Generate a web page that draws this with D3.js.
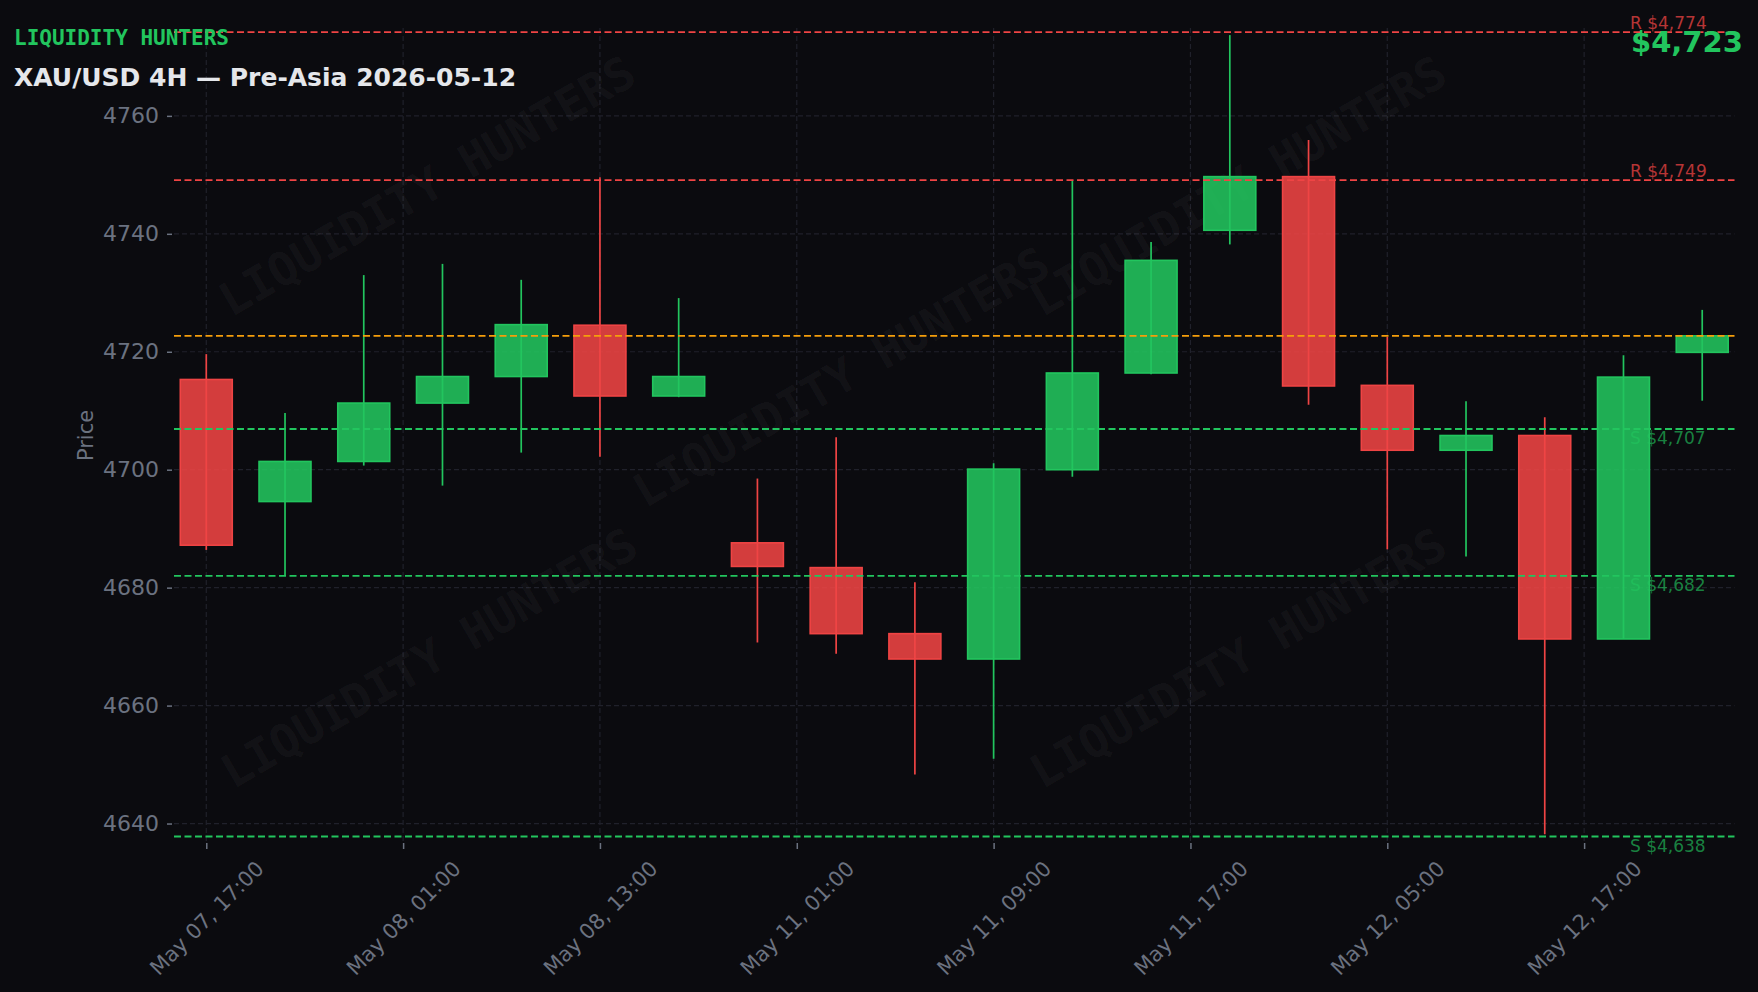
<!DOCTYPE html>
<html><head><meta charset="utf-8">
<script src="https://cdn.jsdelivr.net/npm/d3@7"></script>
<style>html,body{margin:0;padding:0;background:#0b0b0f;} svg{display:block}</style>
</head><body>
<svg id="chart" width="1758" height="992"></svg>
<script>
// ---- data ----
const xTickPositions = [0, 2.5, 5, 7.5, 10, 12.5, 15, 17.5];
const xTickLabels = ["May 07, 17:00", "May 08, 01:00", "May 08, 13:00", "May 11, 01:00",
                     "May 11, 09:00", "May 11, 17:00", "May 12, 05:00", "May 12, 17:00"];
const opens  = [4715.3, 4694.6, 4701.4, 4711.3, 4715.8, 4724.5, 4712.5, 4687.6, 4683.4, 4672.2,
                4667.9, 4700.0, 4716.4, 4740.6, 4749.7, 4714.3, 4703.3, 4705.8, 4671.3, 4719.9];
const highs  = [4719.6, 4709.6, 4733.0, 4734.9, 4732.2, 4749.6, 4729.1, 4698.5, 4705.5, 4680.9,
                4701.1, 4749.1, 4738.6, 4773.7, 4755.9, 4722.5, 4711.6, 4708.9, 4719.4, 4727.1];
const lows   = [4686.4, 4682.1, 4700.7, 4697.3, 4702.9, 4702.2, 4712.3, 4670.7, 4668.8, 4648.3,
                4651.0, 4698.8, 4716.2, 4738.2, 4711.0, 4686.5, 4685.3, 4638.2, 4671.3, 4711.7];
const closes = [4687.2, 4701.4, 4711.3, 4715.8, 4724.6, 4712.5, 4715.8, 4683.6, 4672.2, 4667.9,
                4700.1, 4716.4, 4735.5, 4749.7, 4714.2, 4703.3, 4705.8, 4671.3, 4715.7, 4722.7];
const yTicks = [4640, 4660, 4680, 4700, 4720, 4740, 4760];
const yDomain = [4636.7, 4774.9];
const levelPrices = [4774.2, 4749.1, 4706.9, 4682.0, 4637.8];
const levelKinds  = ["R", "R", "S", "S", "S"];
const titleText = "LIQUIDITY HUNTERS";
const subtitleText = "XAU/USD 4H \u2014 Pre-Asia 2026-05-12";
const watermarkCenters = [[427, 186], [1238, 186], [841, 377], [429, 658], [1238, 658]];

// ---- layout ----
const W = 1758, H = 992;
const m = {left: 174, right: 1734.5, top: 28, bottom: 843};
const BG = "#0b0b0f", GREEN = "#22c55e", RED = "#ef4444", ORANGE = "#f59e0b", GRAY = "#6b7280";
const fmt = v => "$" + d3.format(",")(Math.round(v));

const svg = d3.select("#chart");
svg.append("rect").attr("width", W).attr("height", H).attr("fill", BG);

const n = opens.length;
const x = d3.scaleLinear().domain([-0.41, n - 1 + 0.41]).range([m.left, m.right]);
const y = d3.scaleLinear().domain(yDomain).range([m.bottom, m.top]);

// grid
const grid = svg.append("g");
grid.selectAll("line.h").data(yTicks).join("line")
  .attr("x1", m.left).attr("x2", m.right)
  .attr("y1", d => y(d)).attr("y2", d => y(d))
  .attr("stroke", "#20212b").attr("stroke-width", 1.2).attr("stroke-dasharray", "5,3");
grid.selectAll("line.v").data(xTickPositions).join("line")
  .attr("x1", d => x(d)).attr("x2", d => x(d))
  .attr("y1", m.top).attr("y2", m.bottom)
  .attr("stroke", "#20212b").attr("stroke-width", 1.2).attr("stroke-dasharray", "5,3");

// watermark
svg.append("g").selectAll("text").data(watermarkCenters).join("text")
  .attr("transform", d => `translate(${d[0]},${d[1]}) rotate(-30)`)
  .attr("text-anchor", "middle").attr("dominant-baseline", "central")
  .attr("font-family", "DejaVu Sans Mono").attr("font-weight", "bold").attr("font-size", 46)
  .attr("fill", "#ffffff").attr("fill-opacity", 0.05)
  .text(titleText);

// axes
const yAxis = svg.append("g").attr("transform", `translate(${m.left - 2},0)`)
  .call(d3.axisLeft(y).tickValues(yTicks).tickSize(5).tickPadding(8).tickFormat(d3.format("d")));
yAxis.select(".domain").remove();
yAxis.selectAll(".tick line").attr("stroke", GRAY).attr("stroke-width", 1.5);
yAxis.selectAll(".tick text").attr("fill", GRAY).attr("font-size", 22).attr("font-family", "DejaVu Sans");

const xAxis = svg.append("g").attr("transform", `translate(0,${m.bottom})`)
  .call(d3.axisBottom(x).tickValues(xTickPositions).tickSize(6).tickFormat((d, i) => xTickLabels[i]));
xAxis.select(".domain").remove();
xAxis.selectAll(".tick line").attr("stroke", GRAY).attr("stroke-width", 1.5);
xAxis.selectAll(".tick text")
  .attr("fill", GRAY).attr("font-size", 21).attr("font-family", "DejaVu Sans")
  .attr("x", 0).attr("y", 0).attr("dy", "0.35em").attr("text-anchor", "middle")
  .attr("transform", "translate(0,75) rotate(-45)");

svg.append("text")
  .attr("transform", `translate(86,${(m.top + m.bottom) / 2}) rotate(-90)`)
  .attr("text-anchor", "middle").attr("dominant-baseline", "central")
  .attr("font-family", "DejaVu Sans").attr("font-size", 21).attr("fill", GRAY)
  .text("Price");

// candles
const bw = (x(1) - x(0)) * 0.66;
const idx = d3.range(n);
const cg = svg.append("g").selectAll("g").data(idx).join("g");
const col = i => closes[i] >= opens[i] ? GREEN : RED;
cg.append("line")
  .attr("x1", i => x(i)).attr("x2", i => x(i))
  .attr("y1", i => y(highs[i])).attr("y2", i => y(lows[i]))
  .attr("stroke", col).attr("stroke-width", 1.7);
cg.append("rect")
  .attr("x", i => x(i) - bw / 2).attr("width", bw)
  .attr("y", i => y(Math.max(opens[i], closes[i])))
  .attr("height", i => Math.max(1, Math.abs(y(opens[i]) - y(closes[i]))))
  .attr("fill", col).attr("fill-opacity", 0.88)
  .attr("stroke", col).attr("stroke-width", 1.6);

// level lines
const lv = svg.append("g");
lv.selectAll("line").data(levelPrices).join("line")
  .attr("x1", m.left).attr("x2", m.right)
  .attr("y1", d => y(d)).attr("y2", d => y(d))
  .attr("stroke", (d, i) => levelKinds[i] === "R" ? RED : GREEN)
  .attr("stroke-width", 1.8).attr("stroke-dasharray", "7,3.5");
const cur = closes[n - 1];
lv.append("line")
  .attr("x1", m.left).attr("x2", m.right).attr("y1", y(cur)).attr("y2", y(cur))
  .attr("stroke", ORANGE).attr("stroke-width", 1.8).attr("stroke-dasharray", "7,3.5");

lv.selectAll("text").data(levelPrices).join("text")
  .attr("x", 1630)
  .attr("y", (d, i) => levelKinds[i] === "R" ? y(d) - 3 : y(d) + 15)
  .attr("font-family", "DejaVu Sans").attr("font-size", 17)
  .attr("fill", (d, i) => levelKinds[i] === "R" ? RED : GREEN)
  .attr("fill-opacity", (d, i) => levelKinds[i] === "R" ? 0.75 : 0.65)
  .text((d, i) => levelKinds[i] + " " + fmt(d));

// titles
svg.append("text").attr("x", 1631).attr("y", 52)
  .attr("font-family", "DejaVu Sans").attr("font-weight", "bold").attr("font-size", 29)
  .attr("fill", GREEN).text(fmt(cur));
svg.append("text").attr("x", 14).attr("y", 45)
  .attr("font-family", "DejaVu Sans Mono").attr("font-weight", "bold").attr("font-size", 21)
  .attr("fill", GREEN).text(titleText);
svg.append("text").attr("x", 14).attr("y", 86)
  .attr("font-family", "DejaVu Sans").attr("font-weight", "bold").attr("font-size", 25)
  .attr("fill", "#e5e7eb").text(subtitleText);
</script>
</body></html>
